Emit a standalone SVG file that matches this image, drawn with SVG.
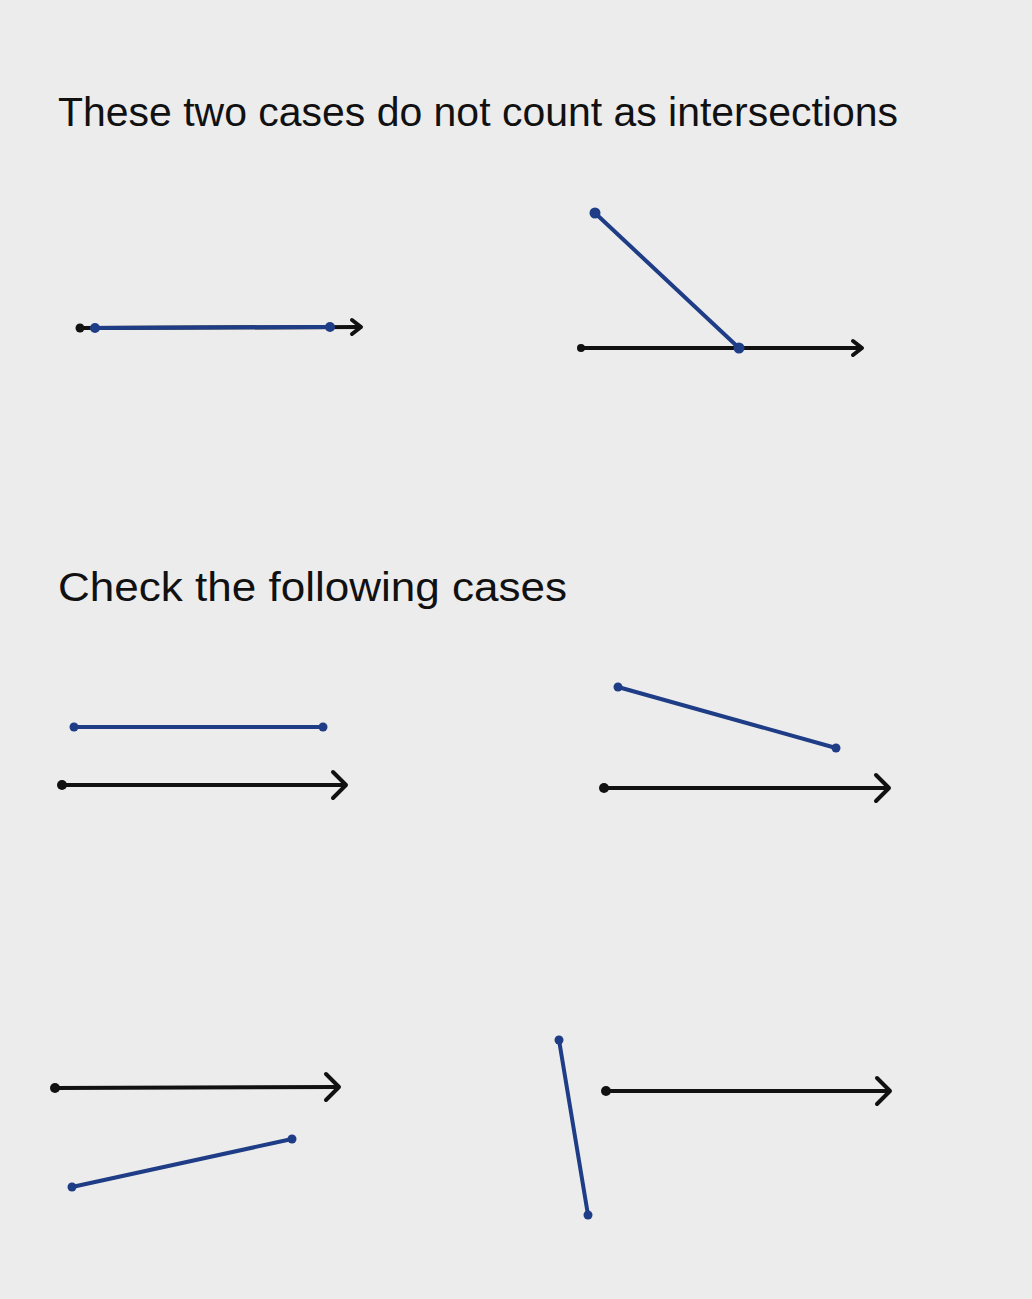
<svg xmlns="http://www.w3.org/2000/svg" width="1032" height="1299" viewBox="0 0 1032 1299">
<style>
.t{font-family:"Liberation Sans",Arial,sans-serif;font-size:41px;fill:#111}
.ray{stroke:#111;stroke-width:4;fill:none;stroke-linecap:round;stroke-linejoin:round}
.seg{stroke:#1e3d86;stroke-width:4;fill:none;stroke-linecap:round}
.bd{fill:#111}
.bl{fill:#1e3d86}
</style>
<rect width="1032" height="1299" fill="#ececec"/>
<text class="t" x="58" y="126" textLength="840" lengthAdjust="spacingAndGlyphs">These two cases do not count as intersections</text>
<text class="t" x="58" y="601" textLength="509" lengthAdjust="spacingAndGlyphs">Check the following cases</text>
<g id="connectors">
<g id="case1">
<line class="ray" x1="80" y1="328" x2="360" y2="327"/>
<polyline class="ray" points="352,320 361,327 352,334"/>
<circle class="bd" cx="80" cy="328" r="4.5"/>
<line class="seg" x1="95" y1="328" x2="330" y2="327" stroke-width="5"/>
<circle class="bl" cx="95" cy="328" r="5"/>
<circle class="bl" cx="330" cy="327" r="5"/>
</g>
<g id="case2">
<line class="ray" x1="581" y1="348" x2="861" y2="348"/>
<polyline class="ray" points="853,341 862,348 853,355"/>
<circle class="bd" cx="581" cy="348" r="4"/>
<line class="seg" x1="595" y1="213" x2="739" y2="348" stroke-width="4.5"/>
<circle class="bl" cx="595" cy="213" r="5.5"/>
<circle class="bl" cx="739" cy="348" r="5.5"/>
</g>
<g id="case3">
<line class="seg" x1="74" y1="727" x2="323" y2="727"/>
<circle class="bl" cx="74" cy="727" r="4.5"/>
<circle class="bl" cx="323" cy="727" r="4.5"/>
<line class="ray" x1="62" y1="785" x2="345" y2="785"/>
<polyline class="ray" points="333,772 346,785 333,798"/>
<circle class="bd" cx="62" cy="785" r="5"/>
</g>
<g id="case4">
<line class="seg" x1="618" y1="687" x2="836" y2="748"/>
<circle class="bl" cx="618" cy="687" r="4.5"/>
<circle class="bl" cx="836" cy="748" r="4.5"/>
<line class="ray" x1="604" y1="788" x2="888" y2="788"/>
<polyline class="ray" points="876,775 889,788 876,801"/>
<circle class="bd" cx="604" cy="788" r="5"/>
</g>
<g id="case5">
<line class="ray" x1="55" y1="1088" x2="338" y2="1087"/>
<polyline class="ray" points="326,1074 339,1087 326,1100"/>
<circle class="bd" cx="55" cy="1088" r="5"/>
<line class="seg" x1="72" y1="1187" x2="292" y2="1139"/>
<circle class="bl" cx="72" cy="1187" r="4.5"/>
<circle class="bl" cx="292" cy="1139" r="4.5"/>
</g>
<g id="case6">
<line class="seg" x1="559" y1="1040" x2="588" y2="1215"/>
<circle class="bl" cx="559" cy="1040" r="4.5"/>
<circle class="bl" cx="588" cy="1215" r="4.5"/>
<line class="ray" x1="606" y1="1091" x2="889" y2="1091"/>
<polyline class="ray" points="877,1078 890,1091 877,1104"/>
<circle class="bd" cx="606" cy="1091" r="5"/>
</g>
</g>
</svg>
